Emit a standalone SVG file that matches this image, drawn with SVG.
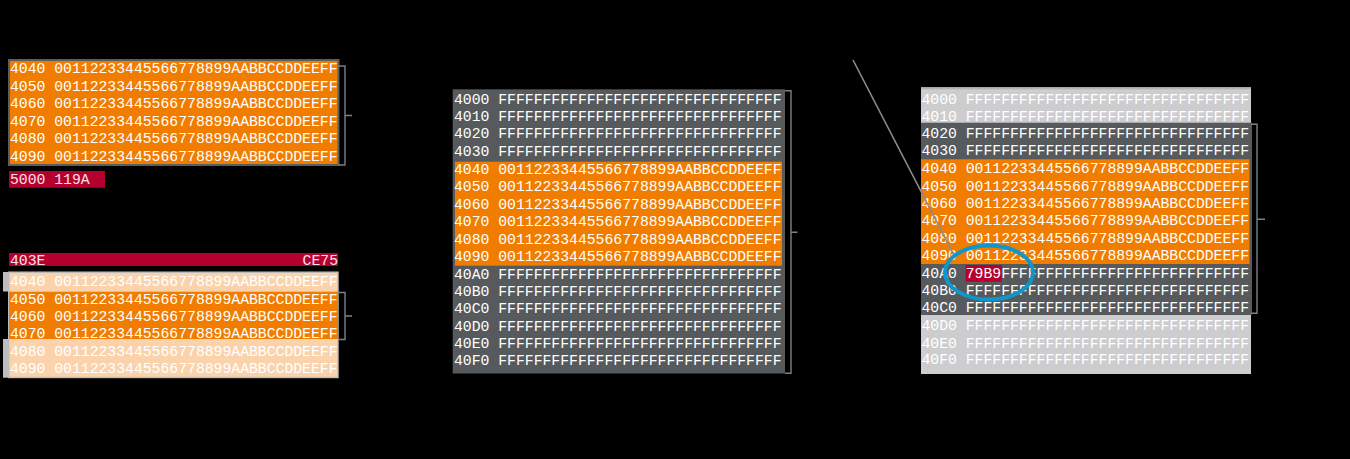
<svg xmlns="http://www.w3.org/2000/svg" width="1350" height="459" viewBox="0 0 1350 459">
<style>
.t{font-family:"Liberation Mono","Courier New",monospace;font-size:14.75px;fill:#ffffff;}
.tp{font-family:"Liberation Mono","Courier New",monospace;font-size:14.75px;fill:#f8e0e6;}
.or{fill:#f07d00;}
.po{fill:#fad3ad;}
.dg{fill:#565a5d;}
.lg{fill:#cdcdcf;}
.cr{fill:#b5002f;}
.br{fill:none;stroke:#7d8185;stroke-width:1.4;}
</style>
<rect width="1350" height="459" fill="#000000"/>

<g id="block-top-left">
<rect x="9" y="60" width="329.5" height="105" class="or" stroke="#5a5e61" stroke-width="2"/>
<text class="t" x="10" y="73">4040 00112233445566778899AABBCCDDEEFF</text>
<text class="t" x="10" y="90.6">4050 00112233445566778899AABBCCDDEEFF</text>
<text class="t" x="10" y="108.2">4060 00112233445566778899AABBCCDDEEFF</text>
<text class="t" x="10" y="125.8">4070 00112233445566778899AABBCCDDEEFF</text>
<text class="t" x="10" y="143.4">4080 00112233445566778899AABBCCDDEEFF</text>
<text class="t" x="10" y="161">4090 00112233445566778899AABBCCDDEEFF</text>
</g>

<g id="label-5000">
<rect x="9" y="171" width="96" height="16.7" class="cr"/>
<text class="tp" x="10" y="184.3">5000 119A</text>
</g>

<g id="label-403E">
<rect x="9" y="253" width="329" height="13" class="cr"/>
<text class="tp" x="10" y="265">403E</text>
<text class="tp" x="338" y="265" text-anchor="end">CE75</text>
</g>

<g id="block-bottom-left">
<rect x="3" y="272" width="6" height="19.5" fill="#bdbdbf"/>
<rect x="3" y="339" width="6" height="38.7" fill="#bdbdbf"/>
<rect x="8.7" y="272.2" width="329.3" height="105.3" class="po" stroke="#bdbdbf" stroke-width="1.4"/>
<rect x="9" y="291.7" width="329" height="47.3" class="or"/>
<text class="t" x="10" y="286">4040 00112233445566778899AABBCCDDEEFF</text>
<text class="t" x="10" y="303.5">4050 00112233445566778899AABBCCDDEEFF</text>
<text class="t" x="10" y="321">4060 00112233445566778899AABBCCDDEEFF</text>
<text class="t" x="10" y="338.4">4070 00112233445566778899AABBCCDDEEFF</text>
<text class="t" x="10" y="355.9">4080 00112233445566778899AABBCCDDEEFF</text>
<text class="t" x="10" y="373.3">4090 00112233445566778899AABBCCDDEEFF</text>
</g>

<g id="block-middle">
<rect x="452.7" y="89.3" width="332.3" height="284.2" class="dg"/>
<rect x="455" y="161.7" width="327" height="104" class="or"/>
<text class="t" x="454" y="103.5">4000 FFFFFFFFFFFFFFFFFFFFFFFFFFFFFFFF</text>
<text class="t" x="454" y="120.9">4010 FFFFFFFFFFFFFFFFFFFFFFFFFFFFFFFF</text>
<text class="t" x="454" y="138.3">4020 FFFFFFFFFFFFFFFFFFFFFFFFFFFFFFFF</text>
<text class="t" x="454" y="155.8">4030 FFFFFFFFFFFFFFFFFFFFFFFFFFFFFFFF</text>
<text class="t" x="454" y="173.8">4040 00112233445566778899AABBCCDDEEFF</text>
<text class="t" x="454" y="191.2">4050 00112233445566778899AABBCCDDEEFF</text>
<text class="t" x="454" y="208.6">4060 00112233445566778899AABBCCDDEEFF</text>
<text class="t" x="454" y="226">4070 00112233445566778899AABBCCDDEEFF</text>
<text class="t" x="454" y="243.5">4080 00112233445566778899AABBCCDDEEFF</text>
<text class="t" x="454" y="260.8">4090 00112233445566778899AABBCCDDEEFF</text>
<text class="t" x="454" y="278.5">40A0 FFFFFFFFFFFFFFFFFFFFFFFFFFFFFFFF</text>
<text class="t" x="454" y="295.8">40B0 FFFFFFFFFFFFFFFFFFFFFFFFFFFFFFFF</text>
<text class="t" x="454" y="313.1">40C0 FFFFFFFFFFFFFFFFFFFFFFFFFFFFFFFF</text>
<text class="t" x="454" y="330.5">40D0 FFFFFFFFFFFFFFFFFFFFFFFFFFFFFFFF</text>
<text class="t" x="454" y="347.9">40E0 FFFFFFFFFFFFFFFFFFFFFFFFFFFFFFFF</text>
<text class="t" x="454" y="365">40F0 FFFFFFFFFFFFFFFFFFFFFFFFFFFFFFFF</text>
</g>

<g id="block-right">
<rect x="921" y="87.3" width="330" height="286.7" class="lg"/>
<rect x="921" y="87.3" width="330" height="2" fill="#b4b4b6"/>
<rect x="921" y="122.7" width="331" height="192.3" class="dg"/>
<rect x="921" y="159.3" width="328.5" height="104.7" class="or"/>
<rect x="965.7" y="265" width="36" height="16.7" class="cr"/>
<text class="t" x="921.5" y="103.5">4000 FFFFFFFFFFFFFFFFFFFFFFFFFFFFFFFF</text>
<text class="t" x="921.5" y="120.5">4010 FFFFFFFFFFFFFFFFFFFFFFFFFFFFFFFF</text>
<text class="t" x="921.5" y="138.1">4020 FFFFFFFFFFFFFFFFFFFFFFFFFFFFFFFF</text>
<text class="t" x="921.5" y="155.3">4030 FFFFFFFFFFFFFFFFFFFFFFFFFFFFFFFF</text>
<text class="t" x="921.5" y="173.3">4040 00112233445566778899AABBCCDDEEFF</text>
<text class="t" x="921.5" y="190.5">4050 00112233445566778899AABBCCDDEEFF</text>
<text class="t" x="921.5" y="208">4060 00112233445566778899AABBCCDDEEFF</text>
<text class="t" x="921.5" y="225.2">4070 00112233445566778899AABBCCDDEEFF</text>
<text class="t" x="921.5" y="243.3">4080 00112233445566778899AABBCCDDEEFF</text>
<text class="t" x="921.5" y="260.4">4090 00112233445566778899AABBCCDDEEFF</text>
<text class="t" x="921.5" y="278.4">40A0 79B9FFFFFFFFFFFFFFFFFFFFFFFFFFFF</text>
<text class="t" x="921.5" y="295.1">40B0 FFFFFFFFFFFFFFFFFFFFFFFFFFFFFFFF</text>
<text class="t" x="921.5" y="312.3">40C0 FFFFFFFFFFFFFFFFFFFFFFFFFFFFFFFF</text>
<text class="t" x="921.5" y="330.3">40D0 FFFFFFFFFFFFFFFFFFFFFFFFFFFFFFFF</text>
<text class="t" x="921.5" y="347.7">40E0 FFFFFFFFFFFFFFFFFFFFFFFFFFFFFFFF</text>
<text class="t" x="921.5" y="364.4">40F0 FFFFFFFFFFFFFFFFFFFFFFFFFFFFFFFF</text>
</g>

<g id="connectors">
<path class="br" d="M338,66 H345 V165 H338 M345,115.5 H352"/>
<path class="br" d="M338,292.5 H345 V339.5 H338 M345,316 H352"/>
<path class="br" d="M785,90.7 H791 V373.3 H785 M791,232.3 H797.5"/>
<path class="br" d="M1251,124.3 H1257 V313.3 H1251 M1257,219.3 H1265"/>
<line x1="853" y1="60" x2="955" y2="257" stroke="#8c8c8c" stroke-width="1.6"/>
<ellipse cx="989" cy="272.5" rx="44" ry="27" fill="none" stroke="#1196cc" stroke-width="4"/>
</g>
</svg>
